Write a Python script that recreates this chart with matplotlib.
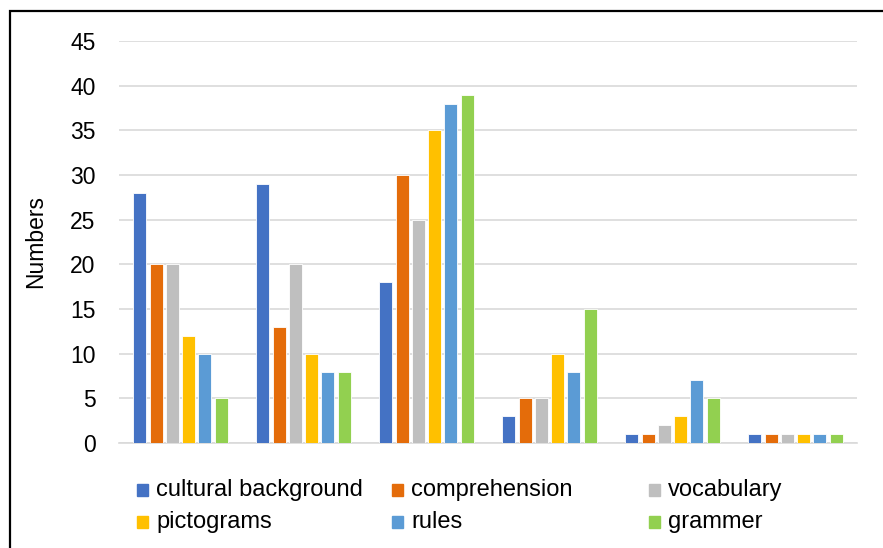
import matplotlib.pyplot as plt
from matplotlib.patches import Rectangle

plt.rcParams['font.family'] = ['Liberation Sans', 'DejaVu Sans']

# survey counts per group, one list per category
series = ["cultural background", "comprehension", "vocabulary",
          "pictograms", "rules", "grammer"]
colors = ["#4472C4", "#E46C0A", "#BFBFBF", "#FFC000", "#5B9BD5", "#92D050"]

cultural_background = [28, 29, 18, 3, 1, 1]
comprehension = [20, 13, 30, 5, 1, 1]
vocabulary = [20, 20, 25, 5, 2, 1]
pictograms = [12, 10, 35, 10, 3, 1]
rules = [10, 8, 38, 8, 7, 1]
grammer = [5, 8, 39, 15, 5, 1]

values = [cultural_background, comprehension, vocabulary, pictograms, rules, grammer]
groups = list(range(len(cultural_background)))

fig = plt.figure(figsize=(8.83, 5.48), dpi=100)
ax = fig.add_axes([119 / 883, 1 - 443 / 548, 738 / 883, 402 / 548])

pitch = 0.1325
width = 0.106
for i, (name, vals) in enumerate(zip(series, values)):
    xs = [g + (i - 2.5) * pitch for g in groups]
    ax.bar(xs, vals, width=width, color=colors[i], edgecolor="white",
           linewidth=0.6, zorder=3)

ax.set_xlim(-0.5, len(groups) - 0.5)
ax.set_ylim(0, 45)
ax.set_yticks(range(0, 46, 5))
ax.set_xticks([])
ax.grid(axis="y", color="#d9d9d9", linewidth=1.2, zorder=0)
for s in ["top", "right", "left"]:
    ax.spines[s].set_visible(False)
ax.spines["bottom"].set_color("#d9d9d9")
ax.spines["bottom"].set_linewidth(1.2)
ax.tick_params(axis="y", length=0, pad=17, labelsize=16.5)
ax.set_ylabel("Numbers", fontsize=16.5)
ax.yaxis.set_label_coords(-0.097, 0.5)

# legend laid out in three even columns under the plot
col_x = [137, 392, 649]
row_y = [490, 522]
for i, (name, c) in enumerate(zip(series, colors)):
    px = col_x[i % 3]
    py = row_y[i // 3]
    fig.patches.append(Rectangle((px / 883, 1 - (py + 6) / 548), 11 / 883, 12 / 548,
                                 transform=fig.transFigure, color=c))
    fig.text((px + 19) / 883, 1 - py / 548, name, fontsize=17, va="center", ha="left")

# outer frame
fig.patches.append(Rectangle((10 / 883, -0.1), 1.2, 1 - 11 / 548 + 0.1,
                             transform=fig.transFigure, fill=False,
                             edgecolor="black", linewidth=1.6))

fig.savefig("out.png", dpi=100)
